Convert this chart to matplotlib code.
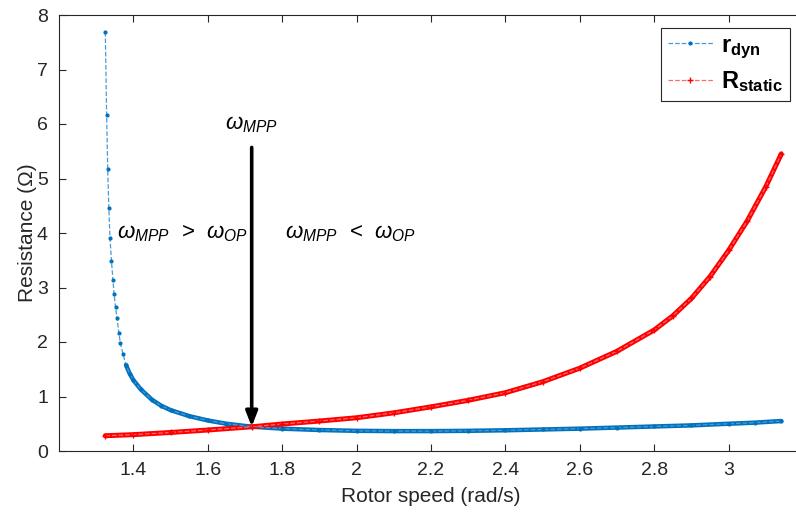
import numpy as np
import matplotlib.pyplot as plt

plt.rcParams['font.family'] = ['Liberation Sans', 'DejaVu Sans']
plt.rcParams['mathtext.fontset'] = 'custom'
plt.rcParams['mathtext.rm'] = 'Liberation Sans'
plt.rcParams['mathtext.it'] = 'Liberation Sans:italic'
plt.rcParams['mathtext.bf'] = 'Liberation Sans:bold'

# values
w_dyn = [1.3245, 1.328, 1.331, 1.334, 1.337, 1.341, 1.345, 1.348, 1.352, 1.356,
         1.361, 1.365, 1.372, 1.38, 1.39, 1.40, 1.42, 1.45, 1.475, 1.50,
         1.55, 1.60, 1.65, 1.70, 1.72, 1.80, 1.90, 2.00, 2.10, 2.20,
         2.30, 2.40, 2.50, 2.60, 2.70, 2.80, 2.90, 3.00, 3.07, 3.1416]
r_dyn = [7.69, 6.17, 5.17, 4.45, 3.91, 3.49, 3.14, 2.88, 2.64, 2.44,
         2.16, 1.98, 1.78, 1.58, 1.42, 1.30, 1.13, 0.94, 0.83, 0.75,
         0.64, 0.56, 0.50, 0.46, 0.445, 0.41, 0.385, 0.37, 0.365, 0.365,
         0.37, 0.38, 0.395, 0.41, 0.43, 0.45, 0.47, 0.50, 0.52, 0.55]

w_static = [1.3245, 1.40, 1.50, 1.60, 1.72, 1.80, 1.90, 2.00, 2.10, 2.20,
            2.30, 2.40, 2.50, 2.60, 2.70, 2.80, 2.85, 2.90, 2.95, 3.00,
            3.05, 3.10, 3.1416]
R_static = [0.28, 0.30, 0.34, 0.385, 0.445, 0.495, 0.55, 0.61, 0.70, 0.81,
            0.93, 1.07, 1.27, 1.52, 1.83, 2.22, 2.48, 2.80, 3.20, 3.68,
            4.22, 4.85, 5.45]

w_mpp = 1.718
r_mpp = 0.445

blue = '#0072BD'
red = '#FF0000'
grey = '#262626'

fig = plt.figure(figsize=(7.96, 5.13), dpi=100)
ax = fig.add_axes([59/796, 1 - 451/513, 744/796, 436/513])

wd = np.array(w_dyn)
rd = np.array(r_dyn)
dense = wd >= 1.375
# thick underlay where the samples sit so close they merge
ax.plot(wd[dense], rd[dense], '-', color=blue, lw=3.2, solid_capstyle='round')
ax.plot(w_static, R_static, '-', color=red, lw=3.6, solid_capstyle='round')

ax.plot(w_dyn, r_dyn, '--', color='#4a9ad6', lw=0.9, marker='.', ms=4,
        mfc=blue, mec=blue, label=r'$\mathbf{r_{dyn}}$')
ax.plot(w_static, R_static, '--', color='#ff6a6a', lw=0.9, marker='+', ms=4,
        mfc=red, mec=red, mew=1.0, label=r'$\mathbf{R_{static}}$')

ax.annotate('', xy=(w_mpp, r_mpp), xytext=(w_mpp, 5.57),
            arrowprops=dict(arrowstyle='-|>,head_width=0.35,head_length=0.9',
                            color='black', lw=2.6, shrinkA=0, shrinkB=0))
ax.text(w_mpp, 5.9, r'$\mathit{\omega_{MPP}}$', ha='center', va='baseline',
        fontsize=16)
ax.text(1.356, 3.9, r'$\mathit{\omega_{MPP}}$  >  $\mathit{\omega_{OP}}$',
        ha='left', va='baseline', fontsize=16)
ax.text(1.808, 3.9, r'$\mathit{\omega_{MPP}}$  <  $\mathit{\omega_{OP}}$',
        ha='left', va='baseline', fontsize=16)

ax.set_xlim(1.2, 3.2)
ax.set_ylim(0, 8)
ax.set_xticks([1.4, 1.6, 1.8, 2, 2.2, 2.4, 2.6, 2.8, 3])
ax.set_xticklabels(['1.4', '1.6', '1.8', '2', '2.2', '2.4', '2.6', '2.8', '3'])
ax.set_yticks(range(0, 9))
ax.tick_params(direction='in', length=5, width=0.8, colors=grey,
               labelsize=14, top=True, right=True, pad=8)
for s in ax.spines.values():
    s.set_color(grey)
    s.set_linewidth(0.8)

ax.set_xlabel('Rotor speed (rad/s)', fontsize=15, color=grey, labelpad=6)
ax.set_ylabel('Resistance (Ω)', fontsize=15, color=grey)
ax.yaxis.set_label_coords(-0.03, 0.5)

leg = ax.legend(loc='upper right', bbox_to_anchor=(0.9825, 0.971),
                borderaxespad=0, fancybox=False, fontsize=17,
                handlelength=1.9, handletextpad=0.35, borderpad=0.3,
                labelspacing=0.35, framealpha=1)
leg.get_frame().set_edgecolor(grey)
leg.get_frame().set_linewidth(0.8)

fig.savefig('out.png', dpi=100)
